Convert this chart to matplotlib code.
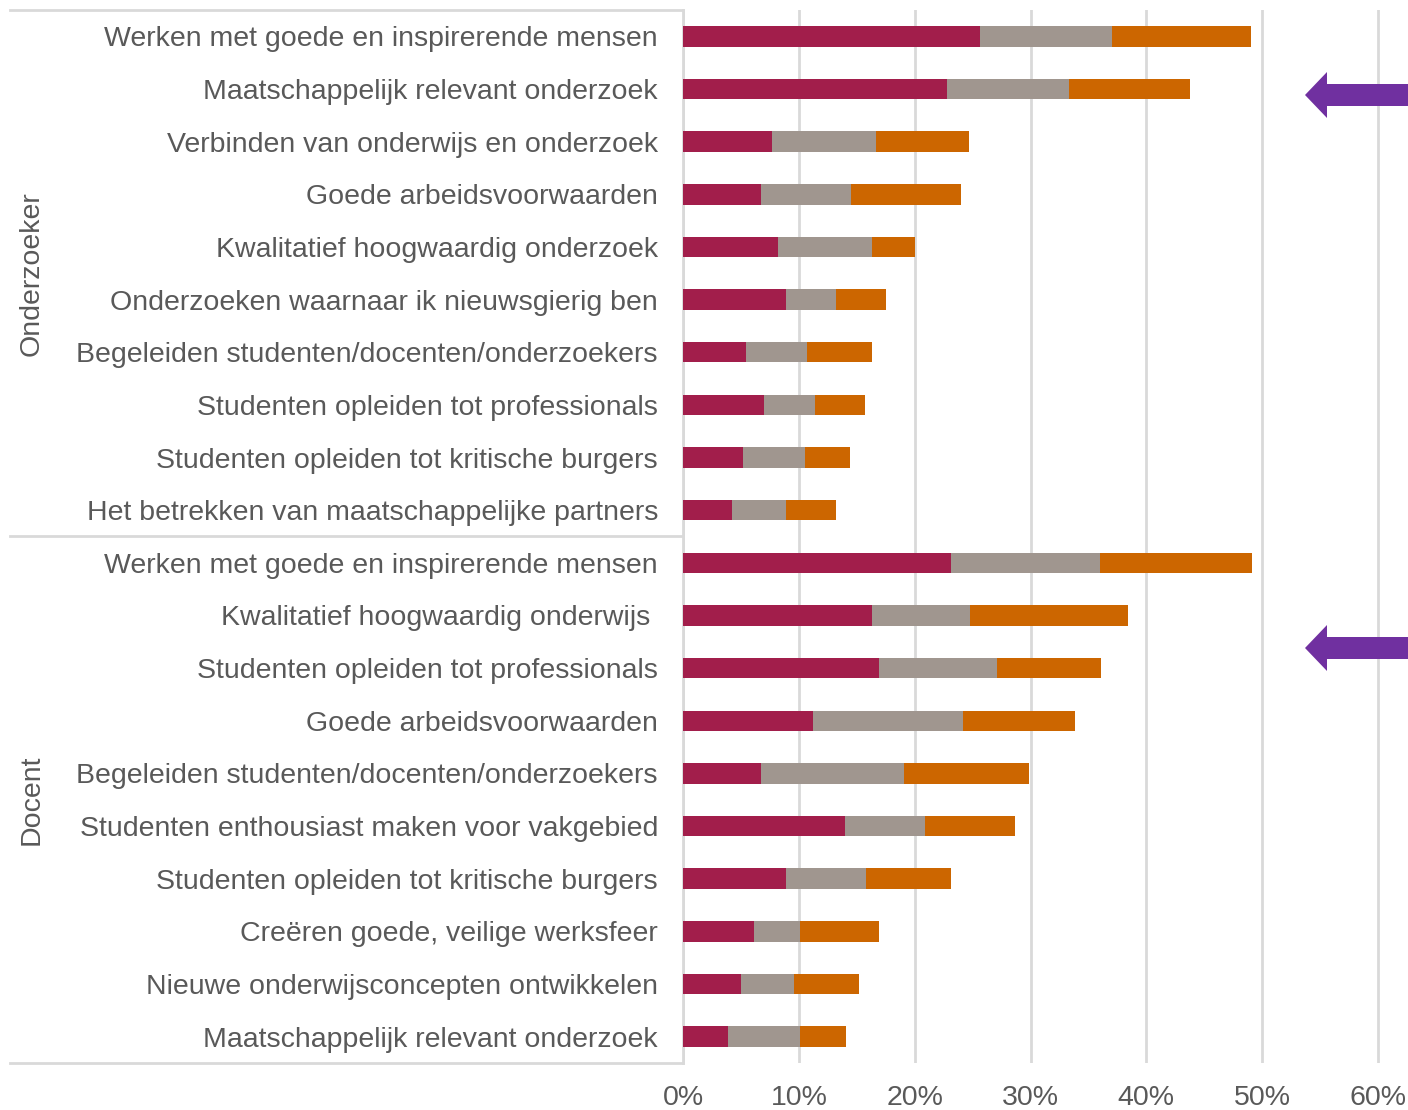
import matplotlib
matplotlib.use("Agg")
import matplotlib.pyplot as plt
from matplotlib.patches import Polygon
from matplotlib.transforms import blended_transform_factory
import numpy as np

plt.rcParams['font.family'] = ['Liberation Sans', 'DejaVu Sans']

groups = ["Onderzoeker", "Docent"]
labels_onderzoeker = [
    "Werken met goede en inspirerende mensen",
    "Maatschappelijk relevant onderzoek",
    "Verbinden van onderwijs en onderzoek",
    "Goede arbeidsvoorwaarden",
    "Kwalitatief hoogwaardig onderzoek",
    "Onderzoeken waarnaar ik nieuwsgierig ben",
    "Begeleiden studenten/docenten/onderzoekers",
    "Studenten opleiden tot professionals",
    "Studenten opleiden tot kritische burgers",
    "Het betrekken van maatschappelijke partners",
]
labels_docent = [
    "Werken met goede en inspirerende mensen",
    "Kwalitatief hoogwaardig onderwijs ",
    "Studenten opleiden tot professionals",
    "Goede arbeidsvoorwaarden",
    "Begeleiden studenten/docenten/onderzoekers",
    "Studenten enthousiast maken voor vakgebied",
    "Studenten opleiden tot kritische burgers",
    "Creëren goede, veilige werksfeer",
    "Nieuwe onderwijsconcepten ontwikkelen",
    "Maatschappelijk relevant onderzoek",
]

# percentages (first, second, third choice)
onderzoeker_1 = [25.6, 22.8, 7.7, 6.7, 8.2, 8.9, 5.4, 7.0, 5.2, 4.2]
onderzoeker_2 = [11.4, 10.5, 9.0, 7.8, 8.1, 4.3, 5.3, 4.4, 5.3, 4.7]
onderzoeker_3 = [12.0, 10.5, 8.0, 9.5, 3.7, 4.3, 5.6, 4.3, 3.9, 4.3]
docent_1 = [23.1, 16.3, 16.9, 11.2, 6.7, 14.0, 8.9, 6.1, 5.0, 3.9]
docent_2 = [12.9, 8.5, 10.2, 13.0, 12.4, 6.9, 6.9, 4.0, 4.6, 6.2]
docent_3 = [13.1, 13.6, 9.0, 9.6, 10.8, 7.8, 7.3, 6.8, 5.6, 4.0]

xticks = [0, 10, 20, 30, 40, 50, 60]
xtick_labels = ["0%", "10%", "20%", "30%", "40%", "50%", "60%"]

c1, c2, c3 = "#A21E4B", "#A0968F", "#CC6600"
txt = "#595959"
grid_c = "#D9D9D9"

labels = labels_onderzoeker + labels_docent
v1 = np.array(onderzoeker_1 + docent_1)
v2 = np.array(onderzoeker_2 + docent_2)
v3 = np.array(onderzoeker_3 + docent_3)
pos = np.arange(len(labels))

W, H = 1408, 1110
AXW = 700
fig = plt.figure(figsize=(W / 100, H / 100), dpi=100)
ax = fig.add_axes([683 / W, 1 - 1063 / H, AXW / W, 1053 / H])

bh = 0.39
ax.barh(pos, v1, height=bh, color=c1, zorder=3)
ax.barh(pos, v2, left=v1, height=bh, color=c2, zorder=3)
ax.barh(pos, v3, left=v1 + v2, height=bh, color=c3, zorder=3)

ax.set_xlim(0, 60 * AXW / 695)
ax.set_ylim(len(labels) - 0.5, -0.5)
ax.set_xticks(xticks)
ax.set_xticklabels(xtick_labels, fontsize=20.5, color=txt)
ax.set_yticks(pos)
ax.set_yticklabels(labels, fontsize=20.5, color=txt)
ax.tick_params(axis='both', length=0)
ax.tick_params(axis='y', pad=18)
ax.tick_params(axis='x', pad=16)
ax.xaxis.grid(True, color=grid_c, linewidth=2, zorder=0)
ax.set_axisbelow(True)
for s in ['top', 'right', 'bottom']:
    ax.spines[s].set_visible(False)
ax.spines['left'].set_color(grid_c)
ax.spines['left'].set_linewidth(2)

# group frame lines in category area
tr = blended_transform_factory(ax.transAxes, ax.transData)
x0 = (10 - 683) / AXW
for yv in [-0.5, 9.5, 19.5]:
    ax.plot([x0, 0], [yv, yv], transform=tr, color=grid_c, linewidth=2, clip_on=False)

gx = (32 - 683) / AXW
ax.text(gx, 4.5, groups[0], transform=tr, rotation=90, ha='center', va='center',
        fontsize=20.5, color=txt)
ax.text(gx, 14.5, groups[1], transform=tr, rotation=90, ha='center', va='center',
        fontsize=20.5, color=txt)

# purple arrows (annotations)
def arrow(yc):
    pts_px = [(1305, yc), (1327, yc - 23), (1327, yc - 11), (1408, yc - 11),
              (1408, yc + 11), (1327, yc + 11), (1327, yc + 23)]
    pts = [(x / W, 1 - y / H) for x, y in pts_px]
    fig.patches.append(Polygon(pts, closed=True, transform=fig.transFigure,
                               facecolor="#7030A0", edgecolor="none"))

arrow(95)
arrow(648)

fig.savefig("out.png", dpi=100, facecolor="white")
